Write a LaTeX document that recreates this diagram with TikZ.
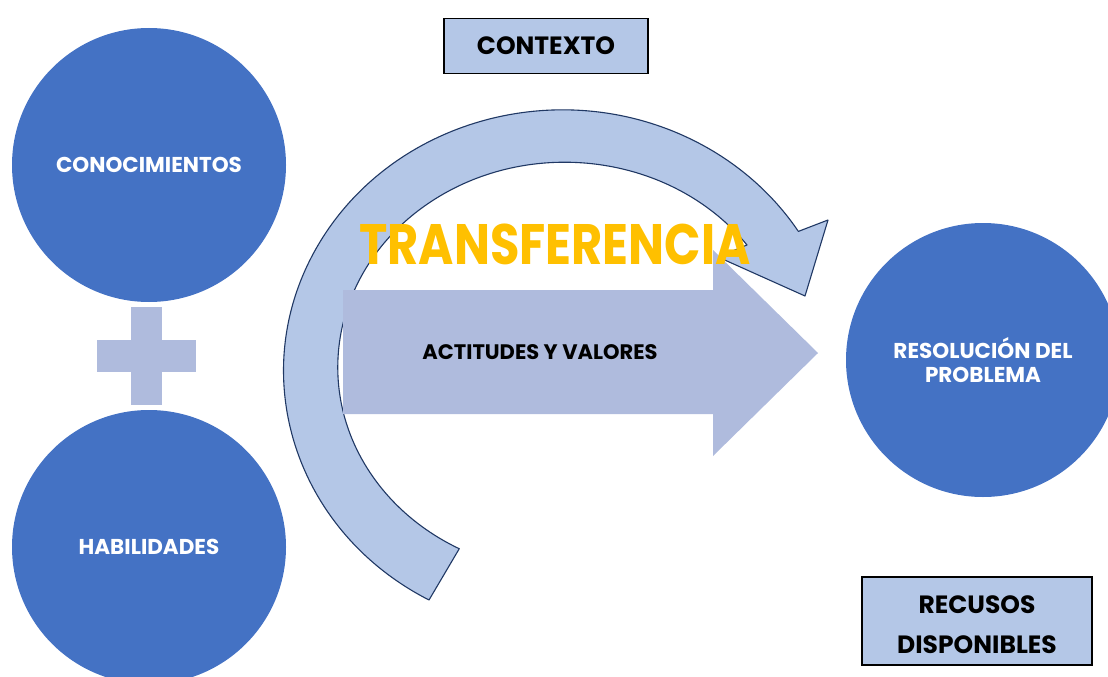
\documentclass[tikz,border=0pt]{standalone}
\usepackage{fontspec}
\setmainfont{Poppins}
\newfontfamily\trfont[FakeStretch=0.84]{Poppins}
\definecolor{circblue}{HTML}{4472C4}
\definecolor{arcfill}{HTML}{B4C7E7}
\definecolor{arcline}{HTML}{203864}
\definecolor{lav}{HTML}{AFBBDD}
\definecolor{gold}{HTML}{FFC000}
\begin{document}
\begin{tikzpicture}[x=1pt,y=-1pt,
  bigcirc/.style={circle,fill=circblue,minimum size=274pt,inner sep=0pt,text=white,font=\bfseries\fontsize{21.5}{24}\selectfont,align=center},
  labelbox/.style={draw=black,line width=1.3pt,fill=arcfill,inner sep=0pt},
  boxtext/.style={font=\bfseries\fontsize{25}{40}\selectfont,align=center},
  lavshape/.style={fill=lav,draw=none},
  arcshape/.style={fill=arcfill,draw=arcline,line width=1.1pt,line join=round}]
\useasboundingbox (0,0) rectangle (1108,677);
% circles
\node[bigcirc] (con) at (149,165) {CONOCIMIENTOS};
\node[bigcirc] (hab) at (149,547) {HABILIDADES};
\node[bigcirc] (res) at (983,360) {RESOLUCIÓN DEL\\PROBLEMA};
% plus sign
\fill[lavshape] (97,340) rectangle (196,372);
\fill[lavshape] (131,307) rectangle (162,405);
% curved arrow
\draw[arcshape] (429,600) arc[start angle=118.6,end angle=327.7,x radius=279,y radius=261]
  -- (828,220) -- (805,296) -- (718,257) -- (747,245)
  arc[start angle=323.4,end angle=117.7,x radius=227,y radius=205] -- cycle;
% straight arrow
\fill[lavshape] (343,290) -- (713,290) -- (713,250) -- (818,353) -- (713,456) -- (713,414) -- (343,414) -- cycle;
\node[font=\bfseries\fontsize{21}{24}\selectfont] (act) at (540,352) {ACTITUDES Y VALORES};
% transfer label
\node[text=gold,font=\trfont\bfseries\fontsize{57}{60}\selectfont] (tr) at (555,244) {TRANSFERENCIA};
% boxes
\node[labelbox,minimum width=204pt,minimum height=55pt,boxtext] (ctx) at (546,46) {CONTEXTO};
\node[labelbox,minimum width=230pt,minimum height=88pt] (rec) at (977,621) {};
\node[boxtext] (rect) at (977,625) {RECUSOS\\DISPONIBLES};
\end{tikzpicture}
\end{document}
